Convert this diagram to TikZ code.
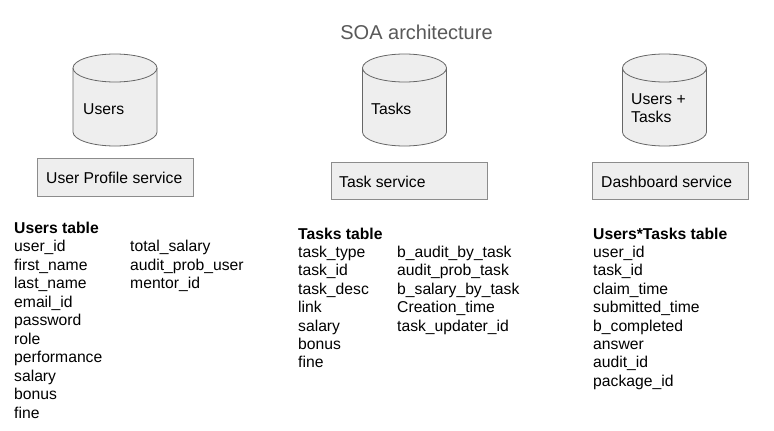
\documentclass[tikz,border=0pt]{standalone}
\usepackage{fontspec}
\setmainfont{Liberation Sans}
\definecolor{cylfill}{HTML}{EEEEEE}
\definecolor{cyldraw}{HTML}{666666}
\definecolor{boxdraw}{HTML}{8C8C8C}
\definecolor{titlegray}{HTML}{595959}
\begin{document}
\begin{tikzpicture}[x=1pt,y=-1pt,
  cyl/.style={fill=cylfill,draw=cyldraw,line width=0.8pt},
  svcbox/.style={fill=cylfill,draw=boxdraw,line width=0.8pt},
  txt/.style={anchor=base west,inner sep=0pt,font=\fontsize{15.7}{18.5}\selectfont},
  hdr/.style={txt,font=\fontsize{15.7}{18.5}\selectfont\bfseries},
  ttl/.style={anchor=base,inner sep=0pt,text=titlegray,font=\fontsize{20}{24}\selectfont}]
\useasboundingbox (0,0) rectangle (774,431);
\fill[white] (0,0) rectangle (774,431);
% title
\node[ttl] (title) at (416.5,39) {SOA architecture};
% cylinders
\foreach \cx/\nm in {115/c1,404.5/c2,664.5/c3}{
  \draw[cyl] (\cx-42,68) -- (\cx-42,132) arc[start angle=180,end angle=0,x radius=42,y radius=14]
    -- (\cx+42,68) arc[start angle=0,end angle=-180,x radius=42,y radius=14] -- cycle;
  \draw[cyl,fill=none] (\cx-42,68) arc[start angle=180,end angle=0,x radius=42,y radius=14];
}
\node[txt] (dbusers) at (83,114) {Users};
\node[txt] (dbtasks) at (371,114) {Tasks};
\node[txt] (dbut1) at (631,104) {Users +};
\node[txt] (dbut2) at (631,122.5) {Tasks};
% service boxes
\draw[svcbox] (37,158) rectangle (193,196);
\draw[svcbox] (331,162) rectangle (487,199);
\draw[svcbox] (592,162) rectangle (748,199);
\node[txt] (s1) at (46,183) {User Profile service};
\node[txt] (s2) at (339,187) {Task service};
\node[txt] (s3) at (601,187) {Dashboard service};
% Users table
\node[hdr] (uh) at (14,233) {Users table};
\foreach \t [count=\i from 0] in {user\_id,first\_name,last\_name,email\_id,password,role,performance,salary,bonus,fine}
  \node[txt] (ua\i) at (14,251.5+18.5*\i) {\t};
\foreach \t [count=\i from 0] in {total\_salary,audit\_prob\_user,mentor\_id}
  \node[txt] (ub\i) at (130,251.5+18.5*\i) {\t};
% Tasks table
\node[hdr] (th) at (298,239) {Tasks table};
\foreach \t [count=\i from 0] in {task\_type,task\_id,task\_desc,link,salary,bonus,fine}
  \node[txt] (ta\i) at (298,257.4+18.4*\i) {\t};
\foreach \t [count=\i from 0] in {b\_audit\_by\_task,audit\_prob\_task,b\_salary\_by\_task,Creation\_time,task\_updater\_id}
  \node[txt] (tb\i) at (397,257.4+18.4*\i) {\t};
% Users*Tasks table
\node[hdr] (xh) at (593,239) {Users*Tasks table};
\foreach \t [count=\i from 0] in {user\_id,task\_id,claim\_time,submitted\_time,b\_completed,answer,audit\_id,package\_id}
  \node[txt] (xa\i) at (593,257.4+18.4*\i) {\t};
\end{tikzpicture}
\end{document}
